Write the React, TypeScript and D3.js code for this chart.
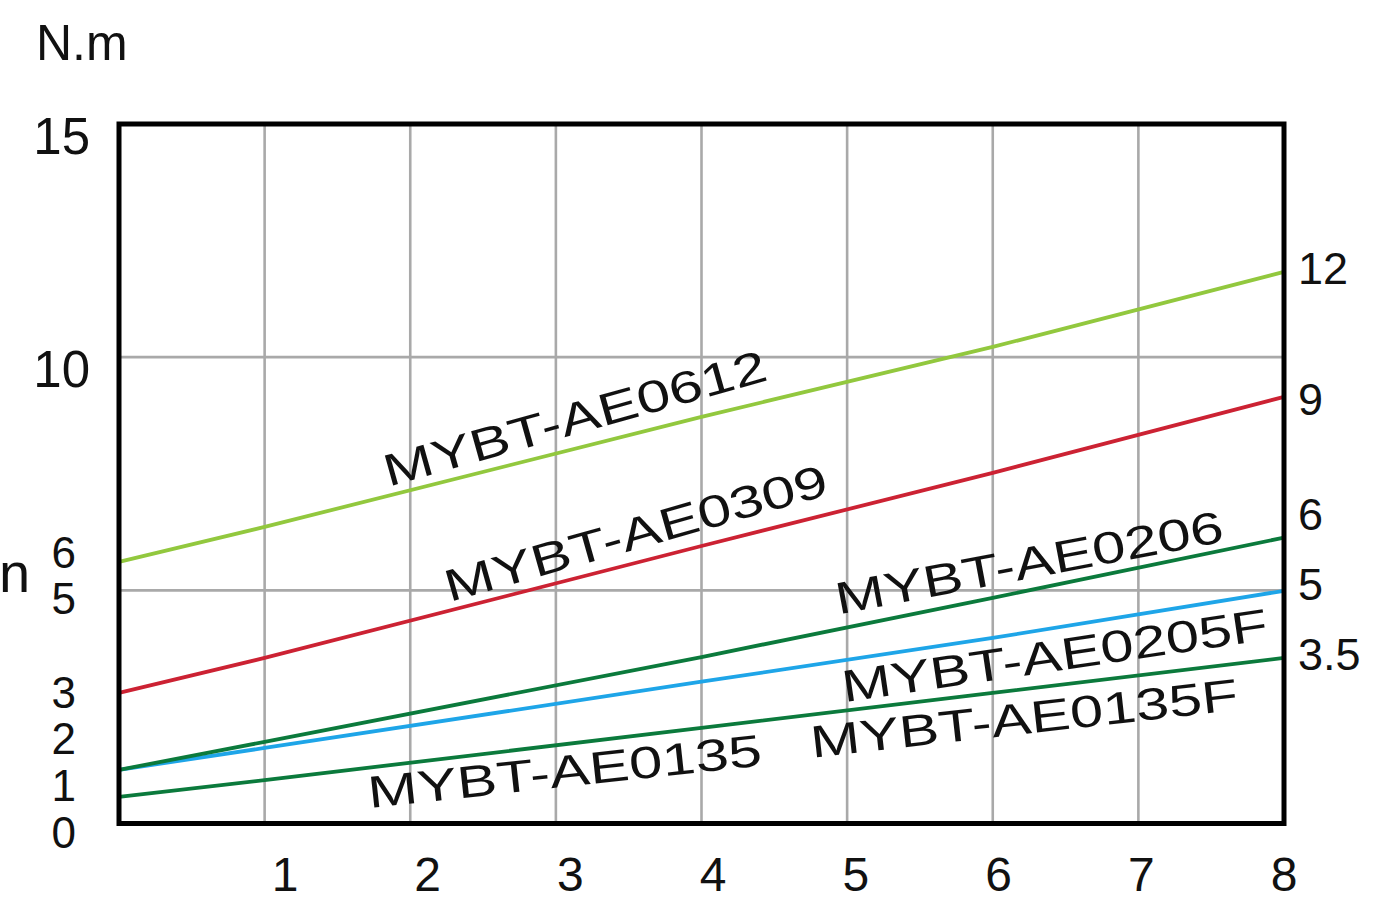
import React from "react";
import * as d3 from "d3";

// ---- data ----
const xValues = [0, 1, 4, 6, 8];
const ae0612 = [5.61, 6.36, 8.72, 10.22, 11.83];
const ae0309 = [2.8, 3.55, 5.95, 7.52, 9.15];
const ae0206 = [1.15, 1.75, 3.57, 4.84, 6.13];
const ae0205F = [1.15, 1.62, 3.04, 3.98, 4.99];
const ae0135 = [0.57, 0.93, 2.05, 2.8, 3.55];

const xTicks = [1, 2, 3, 4, 5, 6, 7, 8];
const xGrid = [1, 2, 3, 4, 5, 6, 7];
const yGrid = [5, 10];
const yMajorTicks = [15, 10];
const yMinorTicks = [6, 5, 3, 2, 1, 0];
const rightLabels = ["12", "9", "6", "5", "3.5"];
const rightLabelAt = [11.56, 8.77, 6.3, 4.8, 3.29];

const seriesNames = ["MYBT-AE0205F", "MYBT-AE0612", "MYBT-AE0309", "MYBT-AE0206", "MYBT-AE0135"];
const seriesValues = [ae0205F, ae0612, ae0309, ae0206, ae0135];
const seriesColors = ["#1ea5e8", "#92c83e", "#cc2233", "#0b7a3c", "#0b7a3c"];

// label layout: text, data x, data y (baseline start), angle, length (px)
const lineLabels = [
  { text: "MYBT-AE0612", x: 1.85, y: 7.22, angle: -15.7, len: 396 },
  { text: "MYBT-AE0309", x: 2.27, y: 4.75, angle: -15.8, len: 396 },
  { text: "MYBT-AE0206", x: 4.94, y: 4.48, angle: -10.7, len: 394 },
  { text: "MYBT-AE0205F", x: 4.98, y: 2.6, angle: -8.4, len: 430 },
  { text: "MYBT-AE0135F", x: 4.76, y: 1.41, angle: -6.4, len: 430 },
  { text: "MYBT-AE0135", x: 1.72, y: 0.33, angle: -6.2, len: 396 },
];

const W = 1394;
const H = 901;
const FONT = "'Liberation Sans', Arial, Helvetica, sans-serif";

export default function App() {
  const x = d3.scaleLinear().domain([0, 8]).range([119, 1284]);
  const y = d3.scaleLinear().domain([0, 15]).range([823.5, 124]);
  const xLabelScale = d3.scaleLinear().domain([1, 8]).range([285, 1284]);

  const line = d3
    .line<number>()
    .x((_, i) => x(xValues[i]))
    .y((d) => y(d));

  return (
    <svg
      width={W}
      height={H}
      style={{ position: "absolute", left: 0, top: 0, display: "block", background: "#fff" }}
      fontFamily={FONT}
    >
      <rect x={0} y={0} width={W} height={H} fill="#fff" />
      {/* grid */}
      {xGrid.map((v) => (
        <line key={"gx" + v} x1={x(v)} x2={x(v)} y1={y(15)} y2={y(0)} stroke="#a9a9a9" strokeWidth={2.6} />
      ))}
      {yGrid.map((v) => (
        <line key={"gy" + v} x1={x(0)} x2={x(8)} y1={y(v)} y2={y(v)} stroke="#a9a9a9" strokeWidth={2.6} />
      ))}
      {/* series */}
      {seriesValues.map((vals, i) => (
        <path
          key={seriesNames[i]}
          d={line(vals) || ""}
          fill="none"
          stroke={seriesColors[i]}
          strokeWidth={3.8}
        />
      ))}
      {/* frame */}
      <rect
        x={x(0)}
        y={y(15)}
        width={x(8) - x(0)}
        height={y(0) - y(15)}
        fill="none"
        stroke="#000"
        strokeWidth={5}
      />
      {/* line labels */}
      {lineLabels.map((l) => (
        <text
          key={l.text}
          x={0}
          y={0}
          transform={`translate(${x(l.x)},${y(l.y)}) rotate(${l.angle})`}
          fontSize={45}
          fill="#111"
          textLength={l.len}
          lengthAdjust="spacingAndGlyphs"
        >
          {l.text}
        </text>
      ))}
      {/* y axis labels */}
      {yMajorTicks.map((v) => (
        <text key={"ym" + v} x={90} y={y(v) + 30} fontSize={51} textAnchor="end" fill="#111">
          {v}
        </text>
      ))}
      {yMinorTicks.map((v) => (
        <text key={"yn" + v} x={76} y={y(v) + 24} fontSize={44} textAnchor="end" fill="#111">
          {v}
        </text>
      ))}
      {/* x axis labels */}
      {xTicks.map((v) => (
        <text key={"xt" + v} x={xLabelScale(v)} y={891} fontSize={48} textAnchor="middle" fill="#111">
          {v}
        </text>
      ))}
      {/* right labels */}
      {rightLabels.map((t, i) => (
        <text key={"r" + t} x={1298} y={y(rightLabelAt[i])} fontSize={45} fill="#111">
          {t}
        </text>
      ))}
      {/* unit labels */}
      <text x={36} y={60} fontSize={50} fill="#111">
        N.m
      </text>
      <text x={-1} y={592} fontSize={56} fill="#111">
        n
      </text>
    </svg>
  );
}
